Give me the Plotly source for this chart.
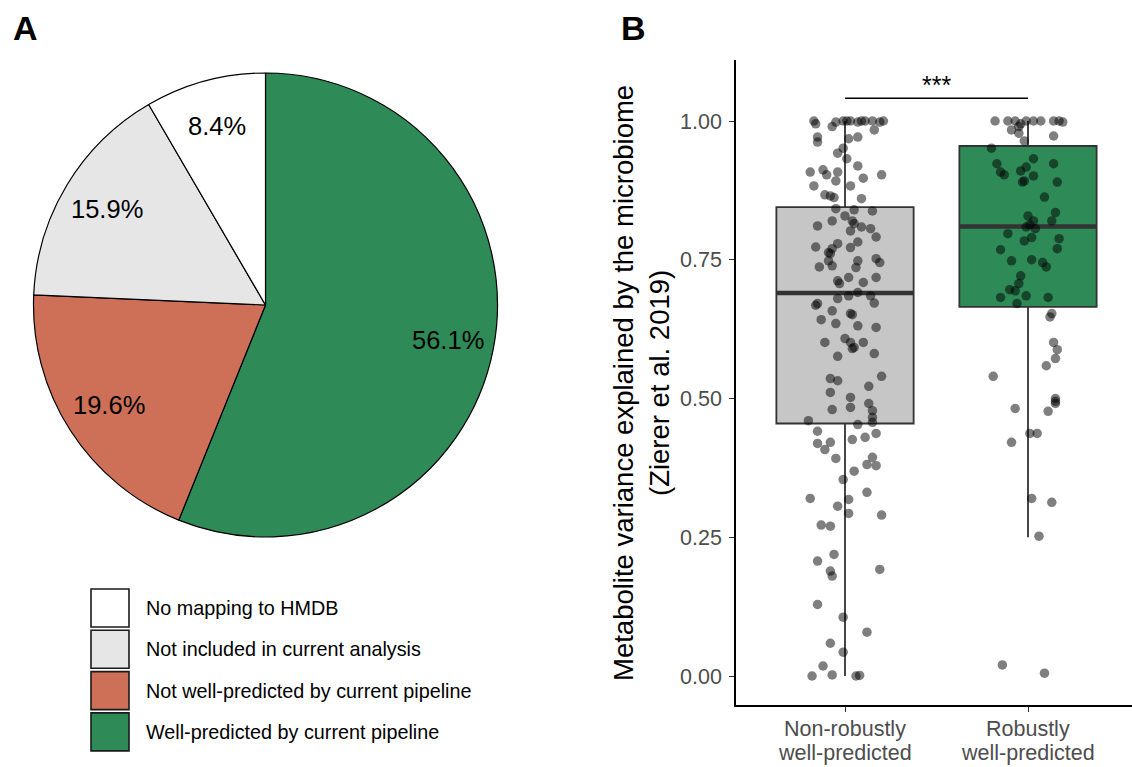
import math
import plotly.graph_objects as go

W, H = 1132, 767
FONT = "Liberation Sans, Arial, sans-serif"

# ---------------- Panel A data ----------------
pie_labels = ["Well-predicted by current pipeline", "Not well-predicted by current pipeline",
              "Not included in current analysis", "No mapping to HMDB"]
pie_values = [56.1, 19.6, 15.9, 8.4]
pie_colors = ["#2e8b57", "#cd7057", "#e6e6e6", "#ffffff"]

legend_labels = ["No mapping to HMDB", "Not included in current analysis",
                 "Not well-predicted by current pipeline", "Well-predicted by current pipeline"]
legend_colors = ["#ffffff", "#e6e6e6", "#cd7057", "#2e8b57"]

# ---------------- Panel B data ----------------
categories = ["Non-robustly<br>well-predicted", "Robustly<br>well-predicted"]
box_q1 = [0.455, 0.665]
box_median = [0.69, 0.81]
box_q3 = [0.845, 0.955]
box_lower = [0.0, 0.25]
box_upper = [1.0, 1.0]
box_fill = ["#c6c6c6", "#2e8b57"]

g1_values = [1.0, 0.995, 0.998, 1.0, 1.0, 1.0, 0.998, 1.0, 1.0, 1.0, 0.998, 1.0, 0.99, 0.984,
             0.971, 0.962, 0.968, 0.971, 0.951, 0.942, 0.932, 0.919, 0.908, 0.912, 0.903, 0.908,
             0.903, 0.897, 0.892, 0.883, 0.883, 0.867, 0.865, 0.862, 0.860, 0.842, 0.840, 0.838,
             0.820, 0.829, 0.811, 0.820, 0.815, 0.809, 0.806, 0.802, 0.791, 0.773, 0.779, 0.770,
             0.763, 0.761, 0.782, 0.772, 0.748, 0.736, 0.752, 0.745, 0.737, 0.739, 0.748, 0.718,
             0.712, 0.707, 0.709, 0.718, 0.691, 0.685, 0.680, 0.685, 0.672, 0.671, 0.668, 0.658,
             0.653, 0.651, 0.642, 0.635, 0.631, 0.628, 0.601, 0.608, 0.601, 0.590, 0.592, 0.601,
             0.576, 0.581, 0.536, 0.532, 0.540, 0.511, 0.522, 0.502, 0.491, 0.480, 0.484, 0.478,
             0.466, 0.457, 0.460, 0.441, 0.453, 0.437, 0.430, 0.426, 0.419, 0.421, 0.408, 0.392,
             0.394, 0.381, 0.379, 0.369, 0.354, 0.331, 0.320, 0.318, 0.306, 0.293, 0.290, 0.272,
             0.270, 0.219, 0.207, 0.189, 0.180, 0.192, 0.129, 0.106, 0.079, 0.059, 0.043, 0.018,
             0.000, 0.002, 0.000, 0.001]
g1_jitter = [-0.17, -0.16, -0.05, -0.01, 0.01, 0.03, 0.07, 0.09, 0.11, 0.15, 0.19, 0.21, -0.07, 0.16,
             -0.15, -0.15, 0.02, 0.07, -0.01, -0.04, 0.01, 0.07, -0.19, -0.12, -0.10, -0.04,
             0.20, 0.10, -0.05, -0.17, 0.03, -0.11, -0.08, -0.06, 0.09, -0.05, 0.05, 0.15,
             -0.07, 0.00, -0.15, 0.04, 0.05, 0.09, 0.14, 0.03, 0.17, -0.16, -0.04, -0.07,
             -0.09, -0.08, 0.07, 0.03, 0.07, 0.06, 0.17, 0.19, -0.14, -0.07, -0.09, 0.02,
             -0.04, -0.03, 0.10, 0.17, 0.07, 0.02, -0.04, 0.14, 0.16, -0.15, -0.16, -0.07,
             0.03, 0.04, -0.13, -0.05, 0.07, 0.17, -0.11, 0.00, 0.03, 0.04, 0.05, 0.10,
             -0.04, 0.16, -0.08, -0.04, 0.20, -0.08, 0.13, 0.03, 0.13, -0.07, 0.03, 0.15,
             0.15, 0.15, -0.20, -0.15, 0.07, 0.17, 0.11, 0.04, -0.15, -0.08, -0.11, -0.05,
             0.15, 0.12, 0.17, 0.05, -0.01, 0.12, -0.19, 0.02, -0.04, 0.02, 0.20, -0.13,
             -0.08, -0.06, -0.15, -0.08, -0.07, 0.19, -0.15, -0.01, 0.12, -0.08, -0.01, -0.12,
             -0.18, -0.07, 0.06, 0.08]

g2_values = [1.0, 1.0, 1.0, 0.99, 0.995, 1.0, 1.0, 1.0, 1.0, 1.0, 0.998,
             0.984, 0.978, 0.973, 0.964, 0.951, 0.932, 0.923, 0.923, 0.908, 0.903, 0.910, 0.917,
             0.901, 0.890, 0.892, 0.890, 0.863, 0.829, 0.820, 0.813, 0.809, 0.806, 0.835, 0.820,
             0.797, 0.790, 0.784, 0.788, 0.768, 0.770, 0.748, 0.750, 0.745, 0.737, 0.721, 0.707,
             0.696, 0.694, 0.682, 0.685, 0.682, 0.671, 0.653, 0.647, 0.601, 0.588, 0.572, 0.559,
             0.540, 0.500, 0.495, 0.491, 0.482, 0.477, 0.437, 0.437, 0.421, 0.320, 0.313, 0.252,
             0.020, 0.005]
g2_jitter = [-0.18, -0.11, -0.07, -0.05, -0.04, -0.01, 0.03, 0.07, 0.14, 0.17, 0.19,
             -0.09, -0.05, 0.14, -0.02, -0.20, 0.03, -0.17, 0.14, -0.15, -0.13, -0.04, -0.01,
             0.03, -0.03, -0.02, 0.16, 0.09, 0.00, 0.03, 0.01, -0.01, 0.04, 0.15, 0.13,
             -0.11, 0.02, -0.02, 0.17, -0.15, 0.16, -0.09, 0.02, 0.08, 0.10, -0.04, -0.05,
             -0.10, -0.07, -0.15, -0.01, 0.11, -0.06, 0.13, 0.12, 0.14, 0.16, 0.15, 0.10,
             -0.19, 0.15, 0.15, 0.15, -0.07, 0.11, 0.01, 0.05, -0.09, 0.02, 0.13, 0.06,
             -0.14, 0.09]

y_ticks = [0.0, 0.25, 0.5, 0.75, 1.0]
y_ticktext = ["0.00", "0.25", "0.50", "0.75", "1.00"]
signif_label = "***"
signif_y = 1.041

# ---------------- layout helpers (pixels -> paper) ----------------
def px(x):
    return x / W

def py(y):
    return 1 - y / H

fig = go.Figure()

# Pie geometry
pie_left, pie_right, pie_top, pie_bottom = 33, 498, 73, 537
pcx = (pie_left + pie_right) / 2
pcy = (pie_top + pie_bottom) / 2
pr = (pie_bottom - pie_top) / 2

fig.add_trace(go.Pie(
    values=pie_values, labels=pie_labels, sort=False, direction="clockwise", rotation=0,
    marker=dict(colors=pie_colors, line=dict(color="black", width=1.2)),
    textinfo="none", hoverinfo="skip", showlegend=False,
    domain=dict(x=[px(pie_left), px(pie_right)], y=[py(pie_bottom), py(pie_top)]),
))

annotations = []
total = sum(pie_values)
cum = 0.0
for v in pie_values:
    mid = (cum + v / 2) / total * 2 * math.pi
    cum += v
    tx = pcx + 0.8 * pr * math.sin(mid)
    ty = pcy - 0.8 * pr * math.cos(mid)
    annotations.append(dict(x=px(tx), y=py(ty), xref="paper", yref="paper",
                            text=f"{v:.1f}%", showarrow=False,
                            font=dict(family=FONT, size=25.5, color="black"),
                            xanchor="center", yanchor="middle"))

# Manual legend for panel A
leg_x0, leg_x1 = 91, 129
leg_top, leg_step, leg_h = 589, 41.3, 38
shapes = []
for i, (lab, col) in enumerate(zip(legend_labels, legend_colors)):
    y0 = leg_top + i * leg_step
    shapes.append(dict(type="rect", xref="paper", yref="paper",
                       x0=px(leg_x0), x1=px(leg_x1), y0=py(y0 + leg_h), y1=py(y0),
                       fillcolor=col, line=dict(color="#1a1a1a", width=1.6)))
    annotations.append(dict(x=px(144), y=py(y0 + leg_h / 2), xref="paper", yref="paper",
                            text=lab, showarrow=False, xanchor="left", yanchor="middle",
                            font=dict(family=FONT, size=19.8, color="black")))

# ---------------- Panel B ----------------
box_width = 0.75
for i in range(2):
    xc = i + 1
    fig.add_trace(go.Box(
        x=[xc], q1=[box_q1[i]], median=[box_median[i]], q3=[box_q3[i]],
        lowerfence=[box_lower[i]], upperfence=[box_upper[i]],
        width=box_width, whiskerwidth=0, boxpoints=False,
        fillcolor=box_fill[i], line=dict(color="#333333", width=1.8),
        hoverinfo="skip", showlegend=False, xaxis="x", yaxis="y"))
    fig.add_trace(go.Scatter(
        x=[xc - box_width / 2, xc + box_width / 2], y=[box_median[i], box_median[i]],
        mode="lines", line=dict(color="#333333", width=4.5), hoverinfo="skip",
        showlegend=False, xaxis="x", yaxis="y"))

for xc, vals, jit in [(1, g1_values, g1_jitter), (2, g2_values, g2_jitter)]:
    fig.add_trace(go.Scatter(
        x=[xc + j for j in jit], y=vals, mode="markers",
        marker=dict(size=9.5, color="rgba(0,0,0,0.5)", line=dict(width=0)),
        hoverinfo="skip", showlegend=False, xaxis="x", yaxis="y"))

# significance bar
fig.add_trace(go.Scatter(x=[1, 2], y=[signif_y, signif_y], mode="lines",
                         line=dict(color="black", width=1.3), hoverinfo="skip",
                         showlegend=False, xaxis="x", yaxis="y"))
annotations.append(dict(x=1.5, y=signif_y, xref="x", yref="y", text=signif_label,
                        showarrow=False, yanchor="bottom", yshift=-3,
                        font=dict(family=FONT, size=25, color="black")))

ax_left, ax_right, ax_top, ax_bottom = 736, 1132, 60, 705
# data -> pixel reference: x=1 at 845, x=2 at 1028; y=1 at 121, y=0 at 676
xr0 = 1 - (845 - ax_left) / 183
xr1 = 2 + (ax_right - 1028) / 183
yr1 = 1 + (121 - ax_top) / 555
yr0 = 0 - (ax_bottom - 676) / 555

# Category labels (two lines, tight line spacing like the reference)
cat_line_y = [729, 753]
for i, cat in enumerate(categories):
    for line, ly in zip(cat.split("<br>"), cat_line_y):
        annotations.append(dict(x=i + 1, y=py(ly), xref="x", yref="paper", text=line,
                                showarrow=False, xanchor="center", yanchor="middle",
                                font=dict(family=FONT, size=21.5, color="#4d4d4d")))

# Y title
annotations.append(dict(x=px(641), y=py(383), xref="paper", yref="paper",
                        text="Metabolite variance explained by the microbiome<br>(Zierer et al. 2019)",
                        showarrow=False, textangle=-90, xanchor="center", yanchor="middle",
                        font=dict(family=FONT, size=27.5, color="black")))

# Panel letters
annotations.append(dict(x=px(25), y=py(28), xref="paper", yref="paper", text="<b>A</b>",
                        showarrow=False, xanchor="center", yanchor="middle",
                        font=dict(family=FONT, size=34, color="black")))
annotations.append(dict(x=px(633), y=py(28), xref="paper", yref="paper", text="<b>B</b>",
                        showarrow=False, xanchor="center", yanchor="middle",
                        font=dict(family=FONT, size=34, color="black")))

fig.update_layout(
    width=W, height=H, margin=dict(l=0, r=0, t=0, b=0, autoexpand=False),
    paper_bgcolor="white", plot_bgcolor="white", showlegend=False,
    font=dict(family=FONT),
    xaxis=dict(domain=[px(ax_left), px(ax_right)], range=[xr0, xr1],
               tickvals=[1, 2], ticktext=["", ""], automargin=False,
               showline=True, linecolor="black", linewidth=1.5, mirror=False,
               ticks="outside", ticklen=5, tickcolor="#333333", tickwidth=1.2,
               showgrid=False, zeroline=False),
    yaxis=dict(domain=[py(ax_bottom), py(ax_top)], range=[yr0, yr1],
               tickvals=y_ticks, ticktext=y_ticktext, automargin=False,
               showline=True, linecolor="black", linewidth=1.5,
               ticks="outside", ticklen=5, tickcolor="#333333", tickwidth=1.2,
               showgrid=False, zeroline=False, ticklabelstandoff=3,
               tickfont=dict(family=FONT, size=21.5, color="#4d4d4d")),
    shapes=shapes, annotations=annotations,
)

fig.write_html("out.html")
